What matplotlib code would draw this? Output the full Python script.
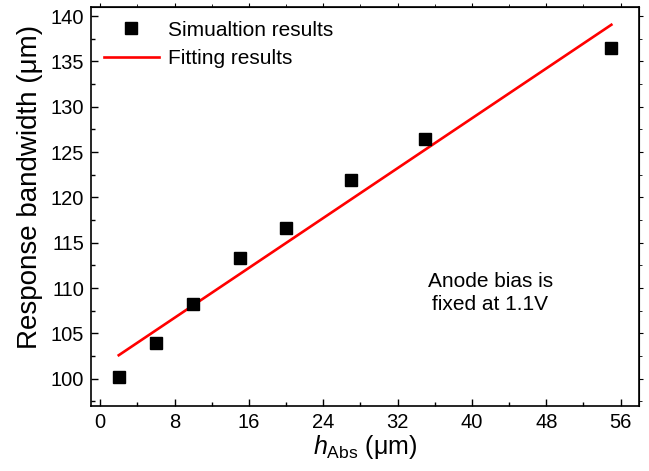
import matplotlib
matplotlib.use("Agg")
import matplotlib.pyplot as plt
from matplotlib.ticker import MultipleLocator

plt.rcParams['font.family'] = ['Liberation Sans', 'DejaVu Sans']
plt.rcParams['mathtext.fontset'] = 'custom'
plt.rcParams['mathtext.rm'] = 'Liberation Sans'
plt.rcParams['mathtext.it'] = 'Liberation Sans:italic'

h_abs = [2, 6, 10, 15, 20, 27, 35, 55]
bandwidth = [100.2, 104.0, 108.2, 113.3, 116.6, 121.9, 126.5, 136.5]
fit_x = [2, 55]
fit_y = [102.6, 139.05]

fig = plt.figure(figsize=(6.49, 4.71), dpi=100)
ax = fig.add_axes([0.140, 0.138, 0.845, 0.847])

ax.plot(h_abs, bandwidth, 's', color='black', markersize=9, label='Simualtion results', zorder=3)
ax.plot(fit_x, fit_y, '-', color='#ff0000', lw=1.9, label='Fitting results', zorder=2)

ax.set_xlim(-1, 58)
ax.set_ylim(97, 141)
ax.xaxis.set_major_locator(MultipleLocator(8))
ax.xaxis.set_minor_locator(MultipleLocator(4))
ax.yaxis.set_major_locator(MultipleLocator(5))
ax.yaxis.set_minor_locator(MultipleLocator(2.5))
ax.tick_params(axis='both', which='major', direction='in', length=5, width=1, labelsize=14.5, pad=5)
ax.tick_params(axis='both', which='minor', direction='in', length=3, width=1)

for sp in ax.spines.values():
    sp.set_linewidth(1.2)

secx = ax.secondary_xaxis('top')
secx.xaxis.set_major_locator(MultipleLocator(8))
secx.xaxis.set_minor_locator(MultipleLocator(4))
secx.tick_params(which='major', direction='out', length=3, labeltop=False)
secx.tick_params(which='minor', direction='out', length=2)
secy = ax.secondary_yaxis('right')
secy.yaxis.set_major_locator(MultipleLocator(5))
secy.yaxis.set_minor_locator(MultipleLocator(2.5))
secy.tick_params(which='major', direction='out', length=3, labelright=False)
secy.tick_params(which='minor', direction='out', length=2)

ax.set_xlabel(r'$h_{\mathrm{Abs}}$ (μm)', fontsize=18, labelpad=1)
ax.set_ylabel('Response bandwidth (μm)', fontsize=20)
ax.yaxis.set_label_coords(-0.087, 0.55)

ax.legend(loc='upper left', frameon=False, fontsize=15, handlelength=2.6,
          borderaxespad=0.25, labelspacing=0.45, handletextpad=0.45)

ax.text(0.728, 0.283, 'Anode bias is\nfixed at 1.1V', transform=ax.transAxes,
        ha='center', va='center', fontsize=15, linespacing=1.25)

fig.savefig('out.png', dpi=100)
